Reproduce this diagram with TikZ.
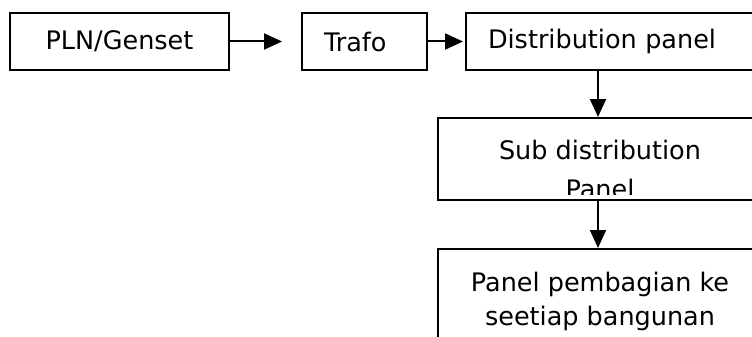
\documentclass[tikz,border=0pt]{standalone}
\usepackage{fontspec}
\setmainfont{DejaVu Sans}
\usetikzlibrary{arrows.meta,positioning}

\begin{document}
\begin{tikzpicture}[x=1pt, y=-1pt, >={Triangle[length=18pt,width=16pt]},
  font=\fontsize{25.5}{34}\selectfont, line width=2pt,
  box/.style={draw, inner sep=0pt, minimum height=57pt},
  panel/.style={draw, inner sep=0pt, minimum width=324pt, anchor=north west},
  lbl/.style={align=center, inner sep=0pt, anchor=north}]
  \useasboundingbox (0,0) rectangle (752,337);
  \clip (0,0) rectangle (752,337);
  % top row
  \node[box, minimum width=219pt, anchor=north west] (pln) at (9,12) {PLN/Genset};
  \node[box, text width=81pt, inner xsep=22pt, align=left, anchor=north west] (trafo) at (301,12) {Trafo};
  \node[box, text width=266pt, inner xsep=22pt, align=left, anchor=north west] (dist) at (465,12) {Distribution panel};
  % panels below
  \node[panel, minimum height=82pt] (sub) at (437,117) {};
  \begin{scope}
    \clip (sub.north west) rectangle ([yshift=7pt]sub.south east);
    \node[lbl, font=\fontsize{25.5}{39}\selectfont] (subtext) at ([yshift=-22pt]sub.north) {Sub distribution\\Panel};
  \end{scope}
  \node[panel, minimum height=120pt] (bld) at (437,248) {};
  \node[lbl] (bldtext) at ([yshift=-23pt]bld.north) {Panel pembagian ke\\seetiap bangunan};
  % connectors
  \draw[->, shorten >=19pt] (pln.east) -- (trafo.west);
  \draw[->, shorten >=2pt] (trafo.east) -- (dist.west);
  \draw[->] ([xshift=-2pt]sub.north |- dist.south) -- ([xshift=-2pt]sub.north);
  \draw[->] ([xshift=-2pt]sub.south) -- ([xshift=-2pt]bld.north);
\end{tikzpicture}
\end{document}
